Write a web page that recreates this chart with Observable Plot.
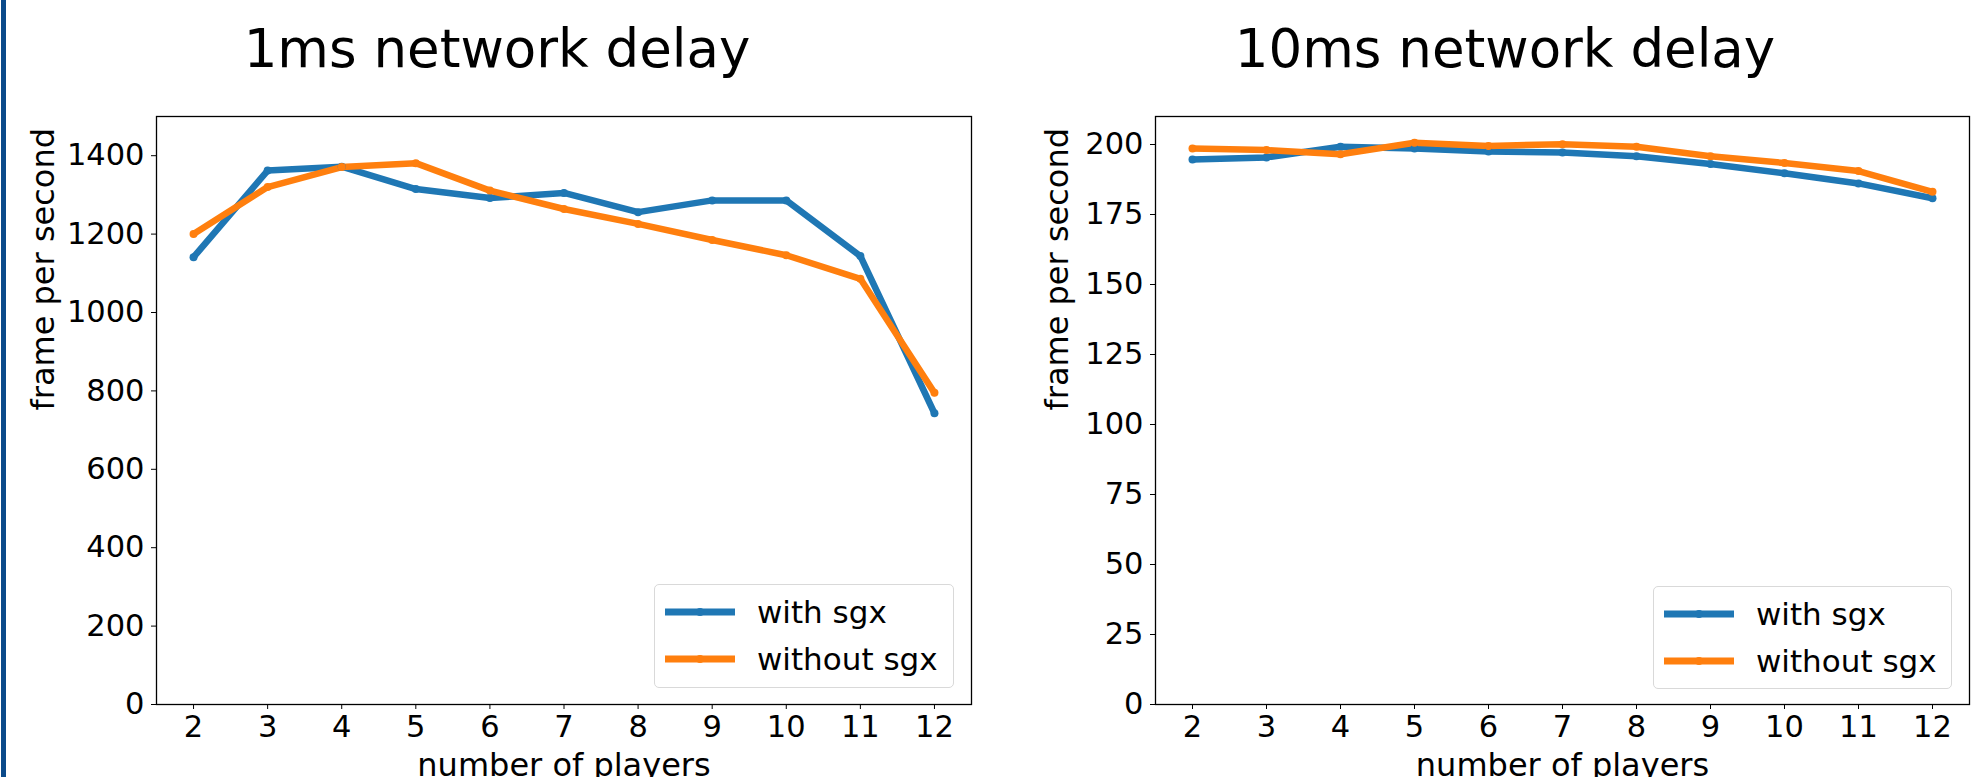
<!DOCTYPE html>
<html>
<head>
<meta charset="utf-8">
<script src="https://cdn.jsdelivr.net/npm/d3@7"></script>
<script src="https://cdn.jsdelivr.net/npm/@observablehq/plot@0.6"></script>
<style>
  html, body { margin: 0; padding: 0; background: #fff; }
  #wrap { position: relative; width: 1971px; height: 777px; overflow: hidden; background: #fff; font-family: "DejaVu Sans", sans-serif; }
  #bar { position: absolute; left: 1px; top: 0; width: 5px; height: 777px; background: #0b4a8a; }
  .panel { position: absolute; top: 0; }
  .title { position: absolute; top: 0; font-size: 53px; color: #000; white-space: nowrap; transform: translateX(-50%); line-height: 1; }
  .legend { position: absolute; border: 1.5px solid #d9d9d9; border-radius: 5px; background: rgba(255,255,255,0.8); box-sizing: border-box; }
  .legend .item { position: absolute; left: 0; font-size: 31px; color: #000; white-space: nowrap; }
</style>
</head>
<body>
<div id="wrap">
  <div id="bar"></div>
</div>
<script>
// ---- data ----
const players = [2, 3, 4, 5, 6, 7, 8, 9, 10, 11, 12];
const seriesNames = ["with sgx", "without sgx"];
const seriesColors = ["#1f77b4", "#ff7f0e"];

const titles = ["1ms network delay", "10ms network delay"];
const xLabel = "number of players";
const yLabel = "frame per second";

// 1ms network delay
const withSgx1ms = [1141, 1362, 1372, 1315, 1292, 1305, 1256, 1286, 1286, 1144, 743];
const withoutSgx1ms = [1200, 1320, 1371, 1381, 1311, 1264, 1226, 1185, 1146, 1086, 795];
const yTicks1ms = [0, 200, 400, 600, 800, 1000, 1200, 1400];

// 10ms network delay
const withSgx10ms = [194.6, 195.4, 199.2, 198.6, 197.5, 197.1, 195.8, 193.0, 189.7, 186.1, 180.8];
const withoutSgx10ms = [198.6, 198.0, 196.5, 200.6, 199.5, 200.1, 199.2, 195.8, 193.4, 190.5, 183.1];
const yTicks10ms = [0, 25, 50, 75, 100, 125, 150, 175, 200];

function toRows(a, b) {
  const rows = [];
  players.forEach((p, i) => rows.push({players: p, fps: a[i], series: seriesNames[0]}));
  players.forEach((p, i) => rows.push({players: p, fps: b[i], series: seriesNames[1]}));
  return rows;
}

function panel({rows, yDomain, yTicks, width, marginLeft, marginRight, yLabelDx}) {
  return Plot.plot({
    width,
    height: 777,
    marginTop: 116,
    marginBottom: 73,
    marginLeft,
    marginRight,
    style: {fontFamily: "DejaVu Sans, sans-serif", fontSize: "30.5px", color: "#000", background: "transparent", overflow: "visible"},
    x: {domain: [1.5, 12.5]},
    y: {domain: yDomain},
    color: {domain: seriesNames, range: seriesColors},
    marks: [
      Plot.axisX({ticks: players, tickFormat: d => String(d), tickSize: 5, tickPadding: 6, label: null, stroke: "#000"}),
      Plot.axisY({ticks: yTicks, tickFormat: d => String(d), tickSize: 5, tickPadding: 7, label: null, stroke: "#000"}),
      Plot.line(rows, {x: "players", y: "fps", z: "series", stroke: "series", strokeWidth: 6.5, strokeLinejoin: "round", strokeLinecap: "round"}),
      Plot.dot(rows, {x: "players", y: "fps", fill: "series", r: 4}),
      Plot.frame({stroke: "#000", strokeWidth: 1.3}),
      Plot.text([yLabel], {text: d => d, frameAnchor: "left", rotate: -90, dx: yLabelDx, fontSize: 32, lineAnchor: "middle"}),
      Plot.text([xLabel], {text: d => d, frameAnchor: "bottom", dy: 49, fontSize: 32, lineAnchor: "top"})
    ]
  });
}

const wrap = document.getElementById("wrap");

function addPanel(left, cfg, titleX, legendBox) {
  const div = document.createElement("div");
  div.className = "panel";
  div.style.left = left + "px";
  div.appendChild(panel(cfg));
  wrap.appendChild(div);

  const t = document.createElement("div");
  t.className = "title";
  t.style.left = titleX + "px";
  t.style.top = "22px";
  t.textContent = cfg.title;
  wrap.appendChild(t);

  const lg = document.createElement("div");
  lg.className = "legend";
  lg.style.left = legendBox.x + "px";
  lg.style.top = legendBox.y + "px";
  lg.style.width = legendBox.w + "px";
  lg.style.height = legendBox.h + "px";
  seriesNames.forEach((name, i) => {
    const item = document.createElement("div");
    item.className = "item";
    item.style.top = (8 + i * 47) + "px";
    const svgNS = "http://www.w3.org/2000/svg";
    const svg = document.createElementNS(svgNS, "svg");
    svg.setAttribute("width", "90");
    svg.setAttribute("height", "40");
    svg.style.position = "absolute";
    svg.style.left = "0px";
    svg.style.top = "0px";
    const ln = document.createElementNS(svgNS, "line");
    ln.setAttribute("x1", "10"); ln.setAttribute("x2", "80");
    ln.setAttribute("y1", "19"); ln.setAttribute("y2", "19");
    ln.setAttribute("stroke", seriesColors[i]); ln.setAttribute("stroke-width", "7");
    svg.appendChild(ln);
    const c = document.createElementNS(svgNS, "circle");
    c.setAttribute("cx", "45"); c.setAttribute("cy", "19"); c.setAttribute("r", "4");
    c.setAttribute("fill", seriesColors[i]);
    svg.appendChild(c);
    item.appendChild(svg);
    const span = document.createElement("span");
    span.textContent = name;
    span.style.position = "absolute";
    span.style.left = "102px";
    span.style.top = "0px";
    span.style.lineHeight = "38px";
    item.appendChild(span);
    lg.appendChild(item);
  });
  wrap.appendChild(lg);
}

addPanel(0, {
  title: titles[0],
  rows: toRows(withSgx1ms, withoutSgx1ms),
  yDomain: [0, 1500], yTicks: yTicks1ms,
  width: 985, marginLeft: 156, marginRight: 14, yLabelDx: -113
}, 497, {x: 654, y: 584, w: 300, h: 104});

addPanel(985, {
  title: titles[1],
  rows: toRows(withSgx10ms, withoutSgx10ms),
  yDomain: [0, 210], yTicks: yTicks10ms,
  width: 986, marginLeft: 170, marginRight: 2, yLabelDx: -98
}, 1505, {x: 1653, y: 586, w: 299, h: 103});
</script>
</body>
</html>
